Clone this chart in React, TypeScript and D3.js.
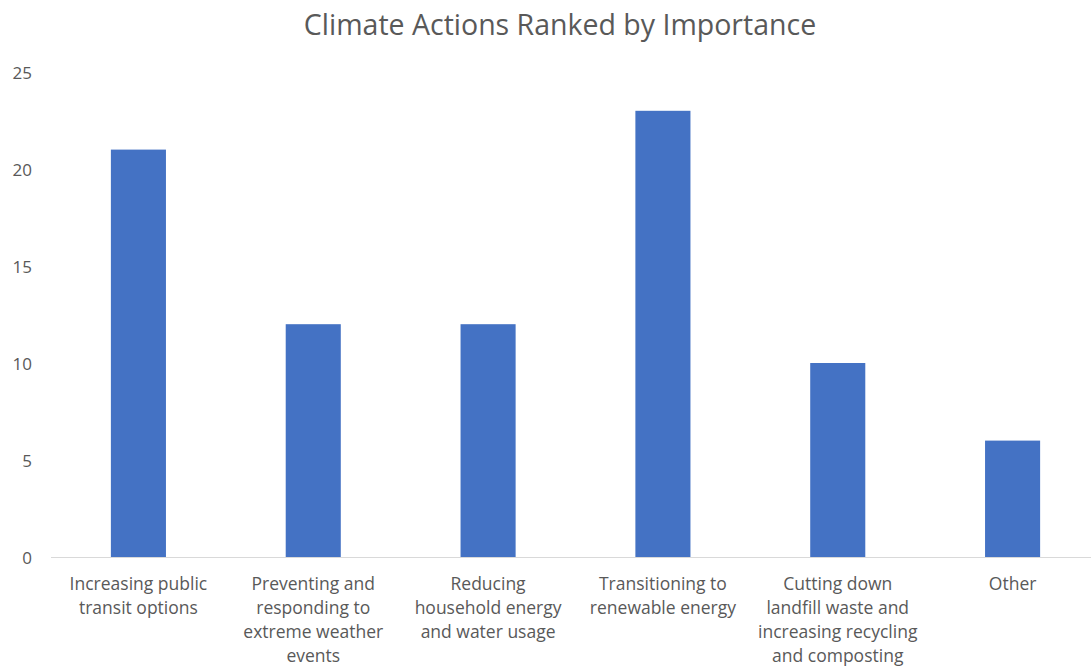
import React from "react";
import * as d3 from "d3";

const categories: string[][] = [
  ["Increasing public", "transit options"],
  ["Preventing and", "responding to", "extreme weather", "events"],
  ["Reducing", "household energy", "and water usage"],
  ["Transitioning to", "renewable energy"],
  ["Cutting down", "landfill waste and", "increasing recycling", "and composting"],
  ["Other"],
];
const values: number[] = [21, 12, 12, 23, 10, 6];
const yTicks: number[] = [0, 5, 10, 15, 20, 25];
const title = "Climate Actions Ranked by Importance";

const W = 1091;
const H = 670;
const FONT = "'Open Sans', 'Noto Sans', sans-serif";
const TEXT = "#595959";

export default function App() {
  const x = d3
    .scaleBand<number>()
    .domain(values.map((_, i) => i))
    .range([51, 1100])
    .paddingInner(0.685)
    .paddingOuter(0.3425);
  const y = d3.scaleLinear().domain([0, 25]).range([557, 72]);

  return (
    <svg
      width={W}
      height={H}
      style={{ position: "absolute", left: 0, top: 0, background: "#fff" }}
      fontFamily={FONT}
    >
      <rect width={W} height={H} fill="#fff" />
      <text x={560} y={35} textAnchor="middle" fontSize={28.5} fill={TEXT}>
        {title}
      </text>
      {yTicks.map((t) => (
        <text key={t} x={32} y={y(t) + 6.5} textAnchor="end" fontSize={17} fill={TEXT}>
          {t}
        </text>
      ))}
      {values.map((v, i) => (
        <rect
          key={i}
          x={x(i)!}
          y={y(v)}
          width={x.bandwidth()}
          height={y(0) - y(v)}
          fill="#4472C4"
        />
      ))}
      <line x1={51} x2={W} y1={y(0) + 0.5} y2={y(0) + 0.5} stroke="#D9D9D9" strokeWidth={1} />
      {categories.map((lines, i) => {
        const cx = x(i)! + x.bandwidth() / 2;
        return (
          <text key={i} textAnchor="middle" fontSize={17.5} fill={TEXT}>
            {lines.map((l, j) => (
              <tspan key={j} x={cx} y={590 + j * 24}>
                {l}
              </tspan>
            ))}
          </text>
        );
      })}
    </svg>
  );
}
